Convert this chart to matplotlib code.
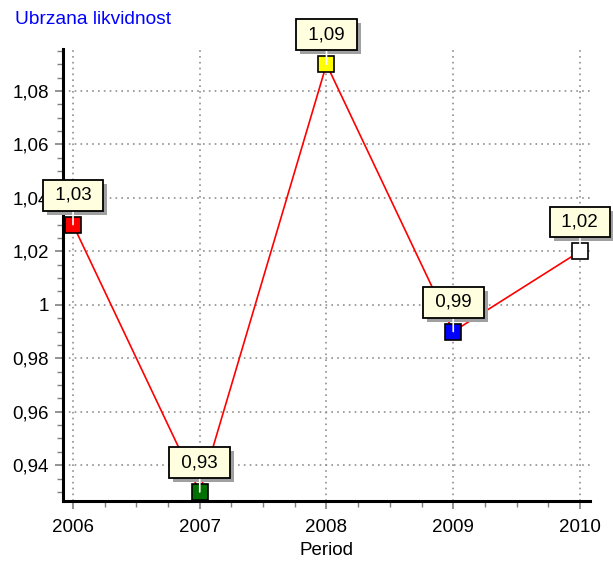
import matplotlib
matplotlib.use("Agg")
import matplotlib.pyplot as plt
from matplotlib.patches import Rectangle
from matplotlib.ticker import MultipleLocator, FuncFormatter

years = [2006, 2007, 2008, 2009, 2010]
values = [1.03, 0.93, 1.09, 0.99, 1.02]
labels = ["1,03", "0,93", "1,09", "0,99", "1,02"]
marker_colors = ["#ff0000", "#007000", "#ffff00", "#0000ff", "#ffffff"]
title = "Ubrzana likvidnost"
xlabel = "Period"

plt.rcParams['font.family'] = ['Liberation Sans', 'DejaVu Sans']

fig = plt.figure(figsize=(6.13, 5.61), dpi=100)
ax = fig.add_axes([63/613, 60/561, 527/613, 452/561])

ax.plot(years, values, color="#ff0000", lw=1.2, zorder=3)
for x, y, c in zip(years, values, marker_colors):
    ax.plot([x], [y], marker="s", ms=11.2, mfc=c, mec="black", mew=1.2,
            linestyle="none", zorder=4)

anns = []
for x, y, t in zip(years, values, labels):
    a = ax.annotate(" " + t + " ", (x, y), xytext=(0, 15), textcoords="offset points",
                    ha="center", va="bottom", fontsize=13.5, color="black",
                    bbox=dict(boxstyle="square,pad=0.37", fc="#ffffe0", ec="black", lw=1.3),
                    arrowprops=dict(arrowstyle="-", color="white", lw=1.2,
                                    shrinkA=0, shrinkB=0),
                    zorder=6)
    anns.append(a)

ax.set_xlim(2005.921, 2010.079)
ax.set_ylim(0.9266, 1.0957)

ax.xaxis.set_major_locator(MultipleLocator(1))
ax.xaxis.set_minor_locator(MultipleLocator(0.25))
ax.yaxis.set_major_locator(MultipleLocator(0.02))
ax.yaxis.set_minor_locator(MultipleLocator(0.005))
ax.yaxis.set_major_formatter(FuncFormatter(lambda v, p: (f"{v:.2f}".rstrip("0").rstrip(".")).replace(".", ",")))
ax.xaxis.set_major_formatter(FuncFormatter(lambda v, p: f"{int(round(v))}"))

ax.tick_params(which="major", length=6, width=1.2, color="#808080", labelsize=13.5)
ax.tick_params(axis="x", which="major", pad=7)
ax.tick_params(axis="y", which="major", pad=4)
ax.tick_params(which="minor", length=4, width=1, color="#808080")

ax.grid(which="major", color="#909090", linestyle=(0, (1, 2.5)), lw=1.2)
for s in ["top", "right"]:
    ax.spines[s].set_visible(False)
for s in ["left", "bottom"]:
    ax.spines[s].set_linewidth(2.2)
    ax.spines[s].set_color("black")

ax.set_xlabel(xlabel, fontsize=13.5, labelpad=4)
fig.text(15/613, 1 - 19/561, title, color="#0000ff", fontsize=13.8, va="center", ha="left")

# drop shadows behind the label boxes
fig.canvas.draw()
for a in anns:
    bb = a.get_bbox_patch().get_window_extent()
    sh = Rectangle((bb.x0 + 4, bb.y0 - 4), bb.width, bb.height, transform=None,
                   fc="#a0a0a0", ec="none", zorder=5.5, clip_on=False)
    ax.add_artist(sh)

fig.savefig("out.png", dpi=100)
